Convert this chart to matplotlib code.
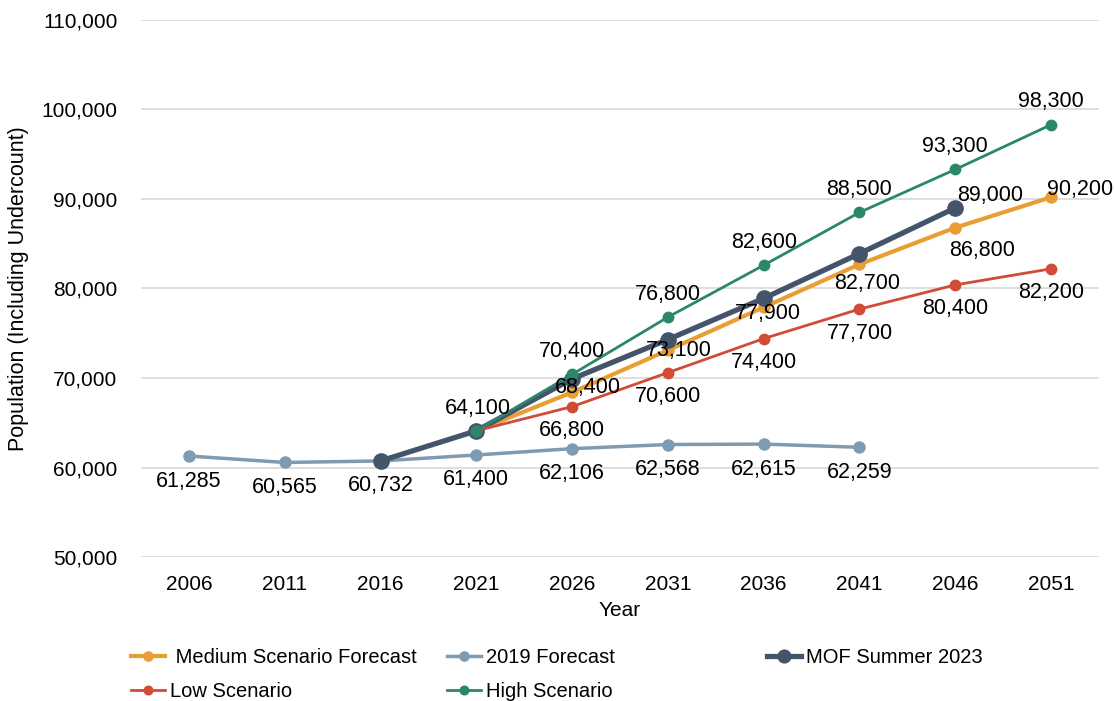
import matplotlib.pyplot as plt
from matplotlib.lines import Line2D

plt.rcParams['font.family'] = ['Liberation Sans', 'DejaVu Sans']

years = [2006, 2011, 2016, 2021, 2026, 2031, 2036, 2041, 2046, 2051]

# значения рядов (None = нет точки)
forecast_2019 = [61285, 60565, 60732, 61400, 62106, 62568, 62615, 62259, None, None]
medium = [None, None, None, 64100, 68400, 73100, 77900, 82700, 86800, 90200]
mof_2023 = [None, None, 60732, 64100, 69900, 74300, 78900, 83900, 89000, None]
low = [None, None, None, 64100, 66800, 70600, 74400, 77700, 80400, 82200]
high = [None, None, None, 64100, 70400, 76800, 82600, 88500, 93300, 98300]

C_MED = '#E99E33'
C_2019 = '#7F9BB1'
C_MOF = '#44546A'
C_LOW = '#D14B37'
C_HIGH = '#2B876B'


def points(values):
    xs = [i for i, v in enumerate(values) if v is not None]
    ys = [v for v in values if v is not None]
    return xs, ys


def add_labels(ax, values, offsets, skip=()):
    # подписи значений со смещением в пикселях
    for i, v in enumerate(values):
        if v is None or i in skip:
            continue
        dx, dy = offsets.get(i, offsets.get('all', (0, 0)))
        ax.annotate(f'{v:,}', (i, v), xytext=(dx, dy), textcoords='offset pixels',
                    ha='center', va='center', fontsize=15.5, color='#000000', zorder=10)


fig = plt.figure(figsize=(11.14, 7.01), dpi=100)
ax = fig.add_axes([0.1266, 0.2054, 0.8599, 0.7661])

series = [
    ('Medium Scenario Forecast', medium, C_MED, 3.0, 9),
    ('2019 Forecast', forecast_2019, C_2019, 2.5, 9),
    ('MOF Summer 2023', mof_2023, C_MOF, 3.8, 12),
    ('Low Scenario', low, C_LOW, 2.0, 8.5),
    ('High Scenario', high, C_HIGH, 2.0, 8.5),
]
handles = {}
for z, (name, vals, color, lw, ms) in enumerate(series):
    xs, ys = points(vals)
    ax.plot(xs, ys, color=color, lw=lw, marker='o', markersize=ms,
            markeredgewidth=0, zorder=3 + z, solid_capstyle='round')
    handles[name] = Line2D([], [], color=color, lw=lw, marker='o', markersize=ms * 0.85,
                           markeredgewidth=0)

add_labels(ax, forecast_2019, {'all': (0, -25)})
add_labels(ax, medium, {3: (2, 22), 4: (16, 5), 5: (11, 0), 6: (4, -6),
                        7: (8, -19), 8: (27, -23), 9: (29, 8)})
add_labels(ax, low, {'all': (0, -24)}, skip=(3,))
add_labels(ax, high, {'all': (0, 23)}, skip=(3,))
add_labels(ax, mof_2023, {8: (35, 12)}, skip=(2, 3, 4, 5, 6, 7))

ax.set_xlim(-0.5, len(years) - 0.5)
ax.set_ylim(50000, 110000)
ax.set_yticks(range(50000, 110001, 10000))
ax.yaxis.set_major_formatter(plt.FuncFormatter(lambda v, p: f'{int(v):,}'))
ax.set_xticks(range(len(years)))
ax.set_xticklabels([str(y) for y in years])
ax.tick_params(axis='both', length=0, labelsize=15, colors='#000000')
ax.tick_params(axis='x', pad=13)
ax.tick_params(axis='y', pad=17)
ax.grid(axis='y', color='#D9D9D9', lw=1.2)
ax.set_axisbelow(True)
for s in ax.spines.values():
    s.set_visible(False)

ax.set_xlabel('Year', fontsize=15, labelpad=5)
ax.set_ylabel('Population (Including Undercount)', fontsize=15.5, labelpad=9)

leg_kw = dict(frameon=False, fontsize=14.5, handlelength=1.7, handletextpad=0.25,
              borderpad=0, borderaxespad=0, labelspacing=0.75, columnspacing=1.5,
              loc='upper left')
names = ['Medium Scenario Forecast', 'Low Scenario', '2019 Forecast', 'High Scenario']
labels = [' Medium Scenario Forecast', 'Low Scenario', '2019 Forecast', 'High Scenario']
fig.legend([handles[n] for n in names], labels, ncol=2,
           bbox_to_anchor=(131 / 1114, 1 - 648 / 701), **leg_kw)
fig.legend([handles['MOF Summer 2023']], ['MOF Summer 2023'],
           bbox_to_anchor=(767 / 1114, 1 - 648 / 701), **leg_kw)

fig.savefig('out.png', dpi=100)
